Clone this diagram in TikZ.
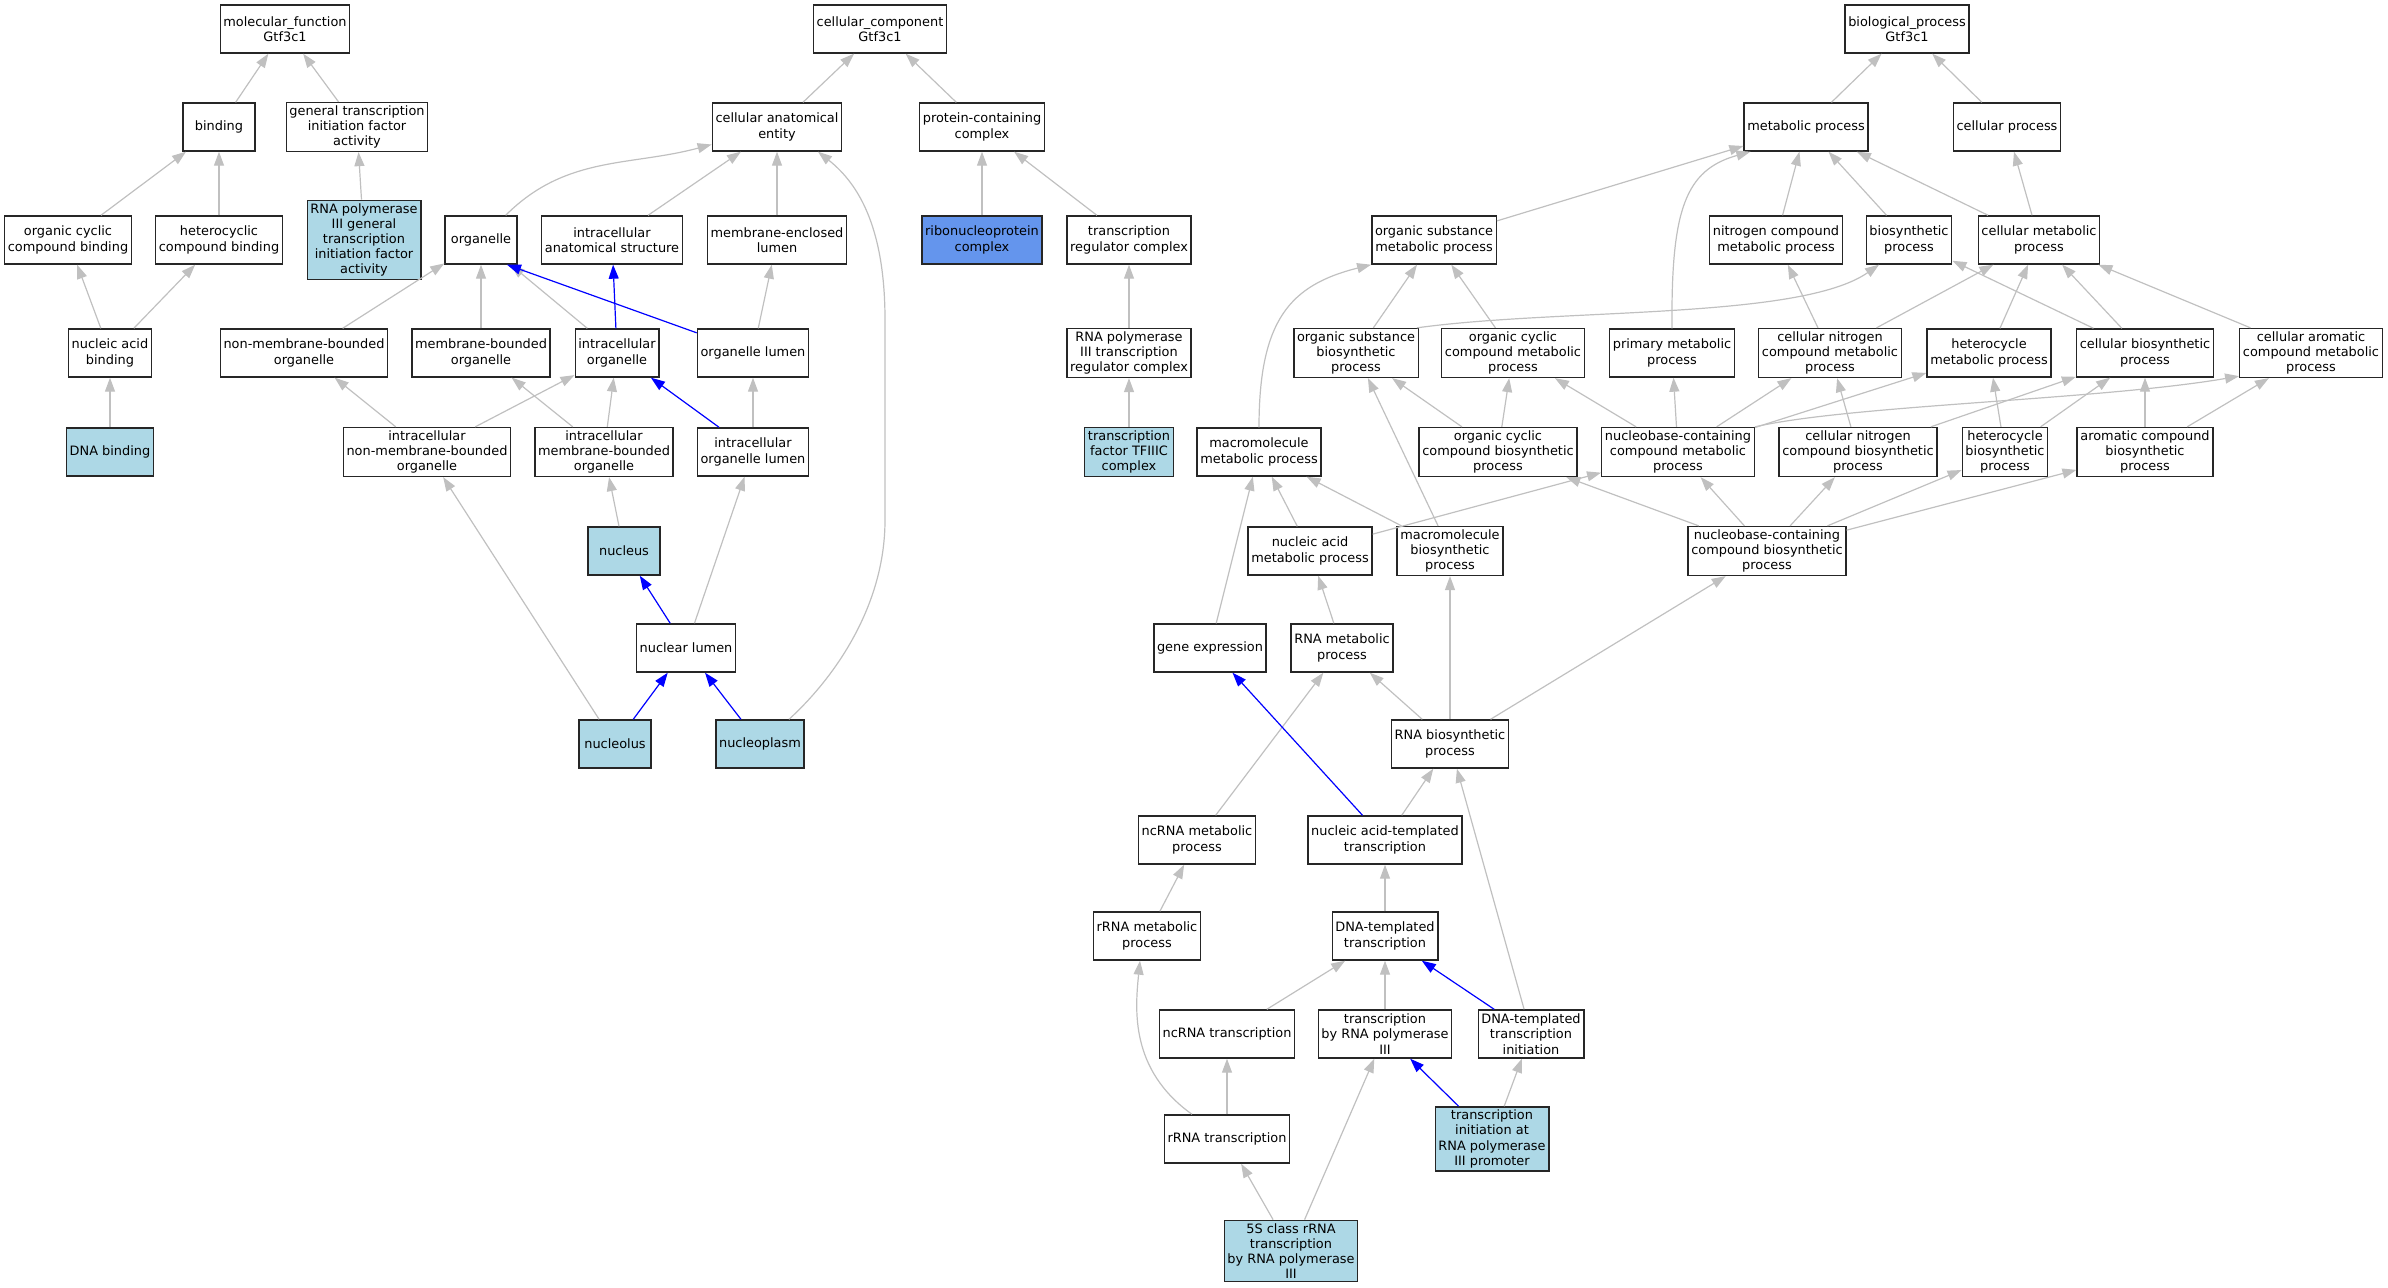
\documentclass[tikz,border=0pt]{standalone}
\usepackage{fontspec}
\setmainfont{DejaVu Sans}
\usetikzlibrary{arrows.meta}
\definecolor{lightblue}{HTML}{ADD8E6}
\definecolor{cornflower}{HTML}{6495ED}
\definecolor{edgegray}{HTML}{C0C0C0}
\tikzstyle{gobox} = [draw=black!85, line width=0.7pt, fill=white, rectangle,
    align=center, minimum width=36pt, minimum height=24pt,
    inner xsep=1.6pt, inner ysep=1.5pt, font=\fontsize{6.45}{7.6}\selectfont]
\tikzstyle{hit} = [gobox, fill=lightblue]
\tikzstyle{isa} = [draw=edgegray, line width=0.6pt, -{Triangle[length=7pt,width=5pt]}]
\tikzstyle{blueisa} = [isa, draw=blue]

\begin{document}
\begin{tikzpicture}[x=0.5pt,y=-0.5pt]
\useasboundingbox (0,0) rectangle (2388,1288);
% molecular function
\node[gobox] (mf) at (285,29) {molecular\_function\\Gtf3c1};
\node[gobox] (bind) at (219,127) {binding};
\node[gobox] (gtifa) at (357,127) {general transcription\\initiation factor\\activity};
\node[gobox] (occb) at (68,240) {organic cyclic\\compound binding};
\node[gobox] (hcb) at (219,240) {heterocyclic\\compound binding};
\node[hit] (rp3gtifa) at (364,240) {RNA polymerase\\III general\\transcription\\initiation factor\\activity};
\node[gobox] (nab) at (110,353) {nucleic acid\\binding};
\node[hit] (dnab) at (110,452) {DNA binding};
% cellular component
\node[gobox] (cc) at (880,29) {cellular\_component\\Gtf3c1};
\node[gobox] (cae) at (777,127) {cellular anatomical\\entity};
\node[gobox] (pcc) at (982,127) {protein-containing\\complex};
\node[gobox] (organelle) at (481,240) {organelle};
\node[gobox] (ias) at (612,240) {intracellular\\anatomical structure};
\node[gobox] (mel) at (777,240) {membrane-enclosed\\lumen};
\node[gobox, fill=cornflower] (rnp) at (982,240) {ribonucleoprotein\\complex};
\node[gobox] (trc) at (1129,240) {transcription\\regulator complex};
\node[gobox] (nmbo) at (304,353) {non-membrane-bounded\\organelle};
\node[gobox] (mbo) at (481,353) {membrane-bounded\\organelle};
\node[gobox] (io) at (617,353) {intracellular\\organelle};
\node[gobox] (ol) at (753,353) {organelle lumen};
\node[gobox] (rp3trc) at (1129,353) {RNA polymerase\\III transcription\\regulator complex};
\node[gobox] (inmbo) at (427,452) {intracellular\\non-membrane-bounded\\organelle};
\node[gobox] (imbo) at (604,452) {intracellular\\membrane-bounded\\organelle};
\node[gobox] (iol) at (753,452) {intracellular\\organelle lumen};
\node[hit] (tfiiic) at (1129,452) {transcription\\factor TFIIIC\\complex};
\node[hit] (nucleus) at (624,551) {nucleus};
\node[gobox] (nl) at (686,648) {nuclear lumen};
\node[hit] (nucleolus) at (615,744) {nucleolus};
\node[hit] (nucleoplasm) at (760,744) {nucleoplasm};
% biological process
\node[gobox] (bp) at (1907,29) {biological\_process\\Gtf3c1};
\node[gobox] (mp) at (1806,127) {metabolic process};
\node[gobox] (cp) at (2007,127) {cellular process};
\node[gobox] (osmp) at (1434,240) {organic substance\\metabolic process};
\node[gobox] (nitcmp) at (1776,240) {nitrogen compound\\metabolic process};
\node[gobox] (biop) at (1909,240) {biosynthetic\\process};
\node[gobox] (cmp) at (2039,240) {cellular metabolic\\process};
\node[gobox] (osbp) at (1356,353) {organic substance\\biosynthetic\\process};
\node[gobox] (occmp) at (1513,353) {organic cyclic\\compound metabolic\\process};
\node[gobox] (pmp) at (1672,353) {primary metabolic\\process};
\node[gobox] (cncmp) at (1830,353) {cellular nitrogen\\compound metabolic\\process};
\node[gobox] (hmp) at (1989,353) {heterocycle\\metabolic process};
\node[gobox] (cbp) at (2145,353) {cellular biosynthetic\\process};
\node[gobox] (cacmp) at (2311,353) {cellular aromatic\\compound metabolic\\process};
\node[gobox] (mmp) at (1259,452) {macromolecule\\metabolic process};
\node[gobox] (occbp) at (1498,452) {organic cyclic\\compound biosynthetic\\process};
\node[gobox] (nbcmp) at (1678,452) {nucleobase-containing\\compound metabolic\\process};
\node[gobox] (cncbp) at (1858,452) {cellular nitrogen\\compound biosynthetic\\process};
\node[gobox] (hbp) at (2005,452) {heterocycle\\biosynthetic\\process};
\node[gobox] (acbp) at (2145,452) {aromatic compound\\biosynthetic\\process};
\node[gobox] (namp) at (1310,551) {nucleic acid\\metabolic process};
\node[gobox] (mbp) at (1450,551) {macromolecule\\biosynthetic\\process};
\node[gobox] (nbcbp) at (1767,551) {nucleobase-containing\\compound biosynthetic\\process};
\node[gobox] (geneexp) at (1210,648) {gene expression};
\node[gobox] (rnamp) at (1342,648) {RNA metabolic\\process};
\node[gobox] (rnabp) at (1450,744) {RNA biosynthetic\\process};
\node[gobox] (ncrnamp) at (1197,840) {ncRNA metabolic\\process};
\node[gobox] (natt) at (1385,840) {nucleic acid-templated\\transcription};
\node[gobox] (rrnamp) at (1147,936) {rRNA metabolic\\process};
\node[gobox] (dtt) at (1385,936) {DNA-templated\\transcription};
\node[gobox] (ncrnat) at (1227,1034) {ncRNA transcription};
\node[gobox] (tp3) at (1385,1034) {transcription\\by RNA polymerase\\III};
\node[gobox] (dtti) at (1531,1034) {DNA-templated\\transcription\\initiation};
\node[gobox] (rrnat) at (1227,1139) {rRNA transcription};
\node[hit] (tip3) at (1492,1139) {transcription\\initiation at\\RNA polymerase\\III promoter};
\node[hit] (fives) at (1291,1251) {5S class rRNA\\transcription\\by RNA polymerase\\III};

% is_a links, molecular function
\draw[isa] (bind) -- (mf);
\draw[isa] (gtifa) -- (mf);
\draw[isa] (occb) -- (bind);
\draw[isa] (hcb) -- (bind);
\draw[isa] (rp3gtifa) -- (gtifa);
\draw[isa] (nab) -- (occb);
\draw[isa] (nab) -- (hcb);
\draw[isa] (dnab) -- (nab);
% cellular component
\draw[isa] (cae) -- (cc);
\draw[isa] (pcc) -- (cc);
\draw[isa] (organelle) to[out=45,in=195] (cae);
\draw[isa] (ias) -- (cae);
\draw[isa] (mel) -- (cae);
\draw[isa] ([xshift=14.5pt]nucleoplasm.north) .. controls (830,682) and (885,610) .. (885,520)
    -- (885,320) .. controls (885,230) and (860,185) .. ([xshift=20.5pt]cae.south);
\draw[isa] (rnp) -- (pcc);
\draw[isa] (trc) -- (pcc);
\draw[isa] (rp3trc) -- (trc);
\draw[isa] (tfiiic) -- (rp3trc);
\draw[isa] (nmbo) -- (organelle);
\draw[isa] (mbo) -- (organelle);
\draw[isa] (io) -- (organelle);
\draw[blueisa] (ol) -- ([xshift=13pt]organelle.south);
\draw[blueisa] (io) -- (ias);
\draw[isa] (ol) -- (mel);
\draw[isa] (inmbo) -- (nmbo);
\draw[isa] (inmbo) -- (io);
\draw[isa] (imbo) -- (mbo);
\draw[isa] (imbo) -- (io);
\draw[blueisa] (iol) -- (io);
\draw[isa] (iol) -- (ol);
\draw[isa] (nucleus) -- (imbo);
\draw[blueisa] (nl) -- (nucleus);
\draw[isa] (nl) -- (iol);
\draw[blueisa] (nucleolus) -- (nl);
\draw[blueisa] (nucleoplasm) -- (nl);
\draw[isa] (nucleolus) -- (inmbo);
% biological process
\draw[isa] (mp) -- (bp);
\draw[isa] (cp) -- (bp);
\draw[isa] (osmp) -- (mp);
\draw[isa] (nitcmp) -- (mp);
\draw[isa] (biop) -- (mp);
\draw[isa] (cmp) -- (mp);
\draw[isa] (pmp.north) .. controls (1671,210) and (1685,170) .. ([xshift=3.5pt]mp.south west);
\draw[isa] (cmp) -- (cp);
\draw[isa] (osbp) -- (osmp);
\draw[isa] (occmp) -- (osmp);
\draw[isa] (mmp.north) .. controls (1259,320) and (1290,285) .. (osmp.south west);
\draw[isa] ([xshift=-1pt]osbp.north east) .. controls (1560,308) and (1800,320) .. ([xshift=-15pt]biop.south);
\draw[isa] (cncmp) -- (nitcmp);
\draw[isa] (cncmp) -- (cmp);
\draw[isa] (hmp) -- (cmp);
\draw[isa] (cbp) -- (cmp);
\draw[isa] (cacmp) -- (cmp);
\draw[isa] (cbp) -- (biop);
\draw[isa] (occbp) -- (osbp);
\draw[isa] (occbp) -- (occmp);
\draw[isa] (nbcmp) -- (occmp);
\draw[isa] (nbcmp) -- (pmp);
\draw[isa] (nbcmp) -- (cncmp);
\draw[isa] (nbcmp) -- (hmp);
\draw[isa] (nbcmp.north east) .. controls (1850,405) and (2100,400) .. ([yshift=1pt]cacmp.south west);
\draw[isa] (cncbp) -- (cncmp);
\draw[isa] (cncbp) -- (cbp);
\draw[isa] (hbp) -- (hmp);
\draw[isa] (hbp) -- (cbp);
\draw[isa] (acbp) -- (cbp);
\draw[isa] (acbp) -- (cacmp);
\draw[isa] (mbp) -- (mmp);
\draw[isa] (mbp) -- (osbp);
\draw[isa] (namp) -- (mmp);
\draw[isa] (namp) -- (nbcmp);
\draw[isa] (nbcbp) -- (occbp);
\draw[isa] (nbcbp) -- (nbcmp);
\draw[isa] (nbcbp) -- (cncbp);
\draw[isa] (nbcbp) -- (hbp);
\draw[isa] (nbcbp) -- (acbp);
\draw[isa] (geneexp) -- (mmp);
\draw[isa] (rnamp) -- (namp);
\draw[isa] (rnabp) -- (rnamp);
\draw[isa] (rnabp) -- (mbp);
\draw[isa] (rnabp) -- (nbcbp);
\draw[isa] (ncrnamp) -- (rnamp);
\draw[blueisa] (natt) -- (geneexp);
\draw[isa] (natt) -- (rnabp);
\draw[isa] (dtti) -- (rnabp);
\draw[isa] (rrnamp) -- (ncrnamp);
\draw[isa] (dtt) -- (natt);
\draw[isa] (ncrnat) -- (dtt);
\draw[isa] (tp3) -- (dtt);
\draw[blueisa] (dtti) -- (dtt);
\draw[isa] (rrnat) -- (ncrnat);
\draw[isa] ([xshift=-17.5pt]rrnat.north) .. controls (1130,1070) and (1135,1010) .. ([xshift=-3.5pt]rrnamp.south);
\draw[blueisa] (tip3) -- (tp3);
\draw[isa] (tip3) -- (dtti);
\draw[isa] (fives) -- (rrnat);
\draw[isa] (fives) -- (tp3);
\end{tikzpicture}
\end{document}
